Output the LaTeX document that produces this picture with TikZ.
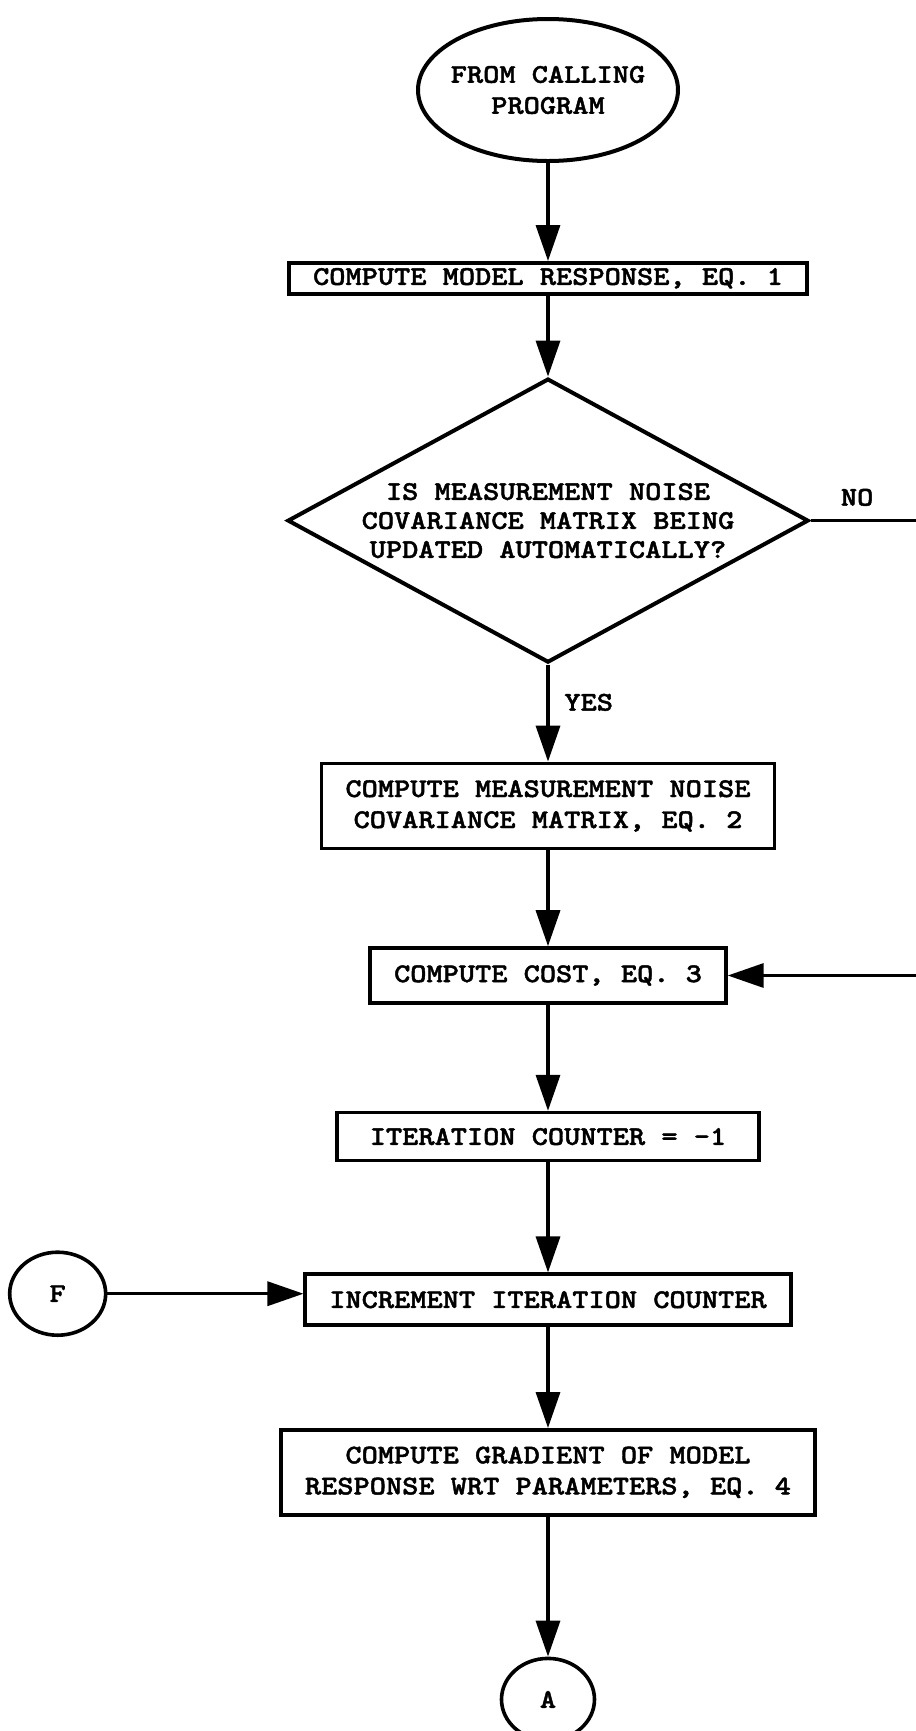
\documentclass[tikz,border=0pt]{standalone}
\usepackage{fontspec}
\newfontfamily\courfont[FakeStretch=1.143,FakeBold=1.6]{lmmonolt10-bold.otf}
\usepackage{tikz}
\usetikzlibrary{shapes.geometric,arrows.meta,positioning}

\begin{document}
\begin{tikzpicture}[
  font=\courfont\fontsize{13.5}{15.5}\selectfont,
  box/.style={rectangle, draw, line width=1.8pt, align=center,
    inner xsep=12pt, inner ysep=2pt},
  term/.style={ellipse, draw, line width=2pt, align=center,
    inner xsep=-4pt, inner ysep=0pt},
  decide/.style={diamond, draw, line width=2pt, align=center,
    inner sep=0pt, shape aspect=1.83, font=\courfont\fontsize{13.5}{14.5}\selectfont},
  link/.style={ellipse, draw, line width=1.8pt, inner sep=0pt},
  lbl/.style={inner sep=0pt},
  arr/.style={-{Triangle[length=18pt, width=12pt]}, line width=1.7pt}
]
\useasboundingbox (0,0) rectangle (458pt,-865.5pt);

\node[term, minimum width=130pt, minimum height=71pt] (start) at (274pt,-45pt) {FROM CALLING\\PROGRAM};
\node[box, below=49pt of start, minimum height=15.5pt] (resp) {COMPUTE MODEL RESPONSE, EQ. 1};
\node[decide, below=40.5pt of resp, minimum width=260.5pt, minimum height=142pt] (dec)
  {IS MEASUREMENT NOISE\\COVARIANCE MATRIX BEING\\UPDATED AUTOMATICALLY?};
\node[box, below=48.5pt of dec, minimum height=42.5pt] (noise) {COMPUTE MEASUREMENT NOISE\\COVARIANCE MATRIX, EQ. 2};
\node[box, below=48pt of noise, minimum height=27.5pt] (cost) {COMPUTE COST, EQ. 3};
\node[box, below=53pt of cost, minimum height=24pt, minimum width=211pt] (ctr) {ITERATION COUNTER = -1};
\node[box, below=55pt of ctr, minimum height=25.5pt] (incr) {INCREMENT ITERATION COUNTER};
\node[box, below=50.5pt of incr, minimum height=42.5pt] (grad) {COMPUTE GRADIENT OF MODEL\\RESPONSE WRT PARAMETERS, EQ. 4};
\node[link, below=70pt of grad, minimum width=46.5pt, minimum height=41pt] (pA) {A};
\node[link, left=98pt of incr, minimum width=48pt, minimum height=41.5pt, yshift=3pt] (pF) {F};

\node[lbl, anchor=base west] (no) at ([xshift=15pt,yshift=7.5pt]dec.east) {NO};
\node[lbl, anchor=base west] (yes) at ([xshift=8pt,yshift=-23pt]dec.south) {YES};

\draw[arr] (start) -- (resp);
\draw[arr] (resp) -- (dec);
\draw[arr] (dec) -- (noise);
\draw[arr] (noise) -- (cost);
\draw[arr] (cost) -- (ctr);
\draw[arr] (ctr) -- (incr);
\draw[arr] (incr) -- (grad);
\draw[arr] (grad) -- (pA);
\draw[arr] (pF) -- (pF -| incr.west);
\draw[arr] (dec.east) -- ++(70pt,0) |- (cost.east);
\end{tikzpicture}
\end{document}
